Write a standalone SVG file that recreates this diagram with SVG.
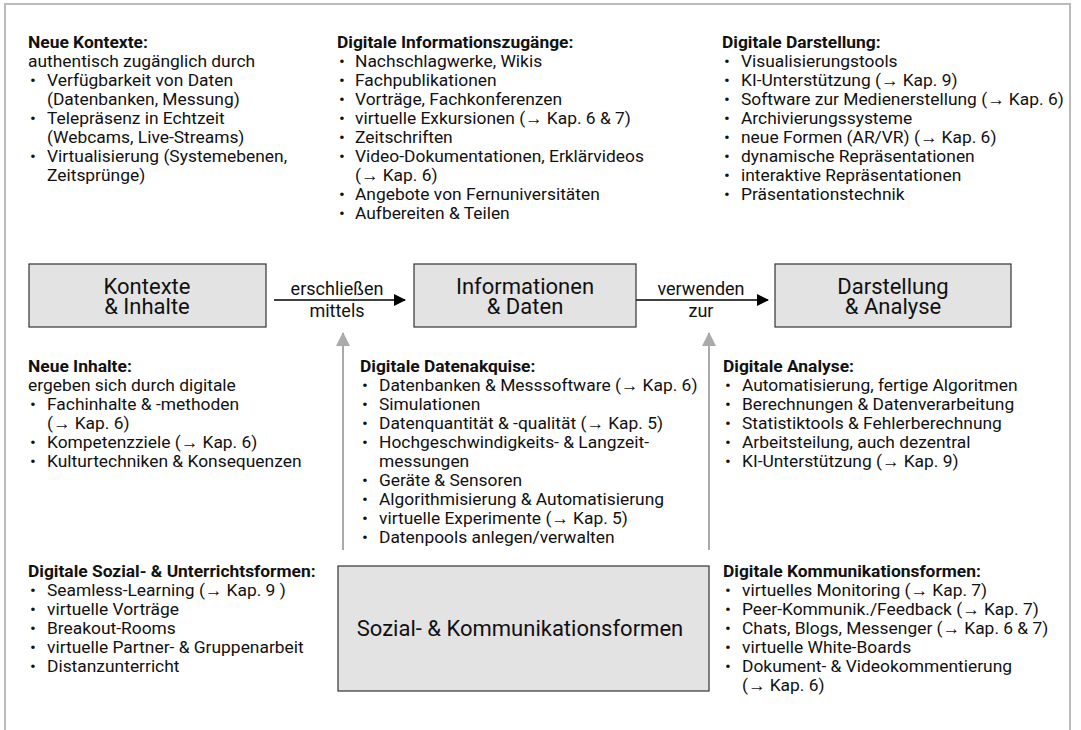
<svg xmlns="http://www.w3.org/2000/svg" width="1081" height="730" viewBox="0 0 1081 730">
<style>
text{font-family:Roboto,"Liberation Sans",sans-serif;fill:#111}
.t{font-size:17.4px}
.h{font-size:17.4px;font-weight:bold}
.box{fill:#e3e3e3;stroke:#333;stroke-width:1.2}
.bl{font-size:22px;text-anchor:middle}
.lbl{font-size:18px;text-anchor:middle}
.ar{stroke:#000;stroke-width:1.5;fill:none}
.gr{stroke:#aaa;stroke-width:2;fill:none}
</style>
<defs>
<marker id="ab" markerWidth="12" markerHeight="12" refX="11" refY="6" orient="auto" markerUnits="userSpaceOnUse"><path d="M0,0 L12,6 L0,12 z" fill="#000"/></marker>
<marker id="ag" markerWidth="14" markerHeight="14" refX="13" refY="7" orient="auto" markerUnits="userSpaceOnUse"><path d="M0,0 L14,7 L0,14 z" fill="#aaa"/></marker>
</defs>
<rect x="5" y="4" width="1065" height="760" fill="#fff" stroke="#bbb" stroke-width="2"/>

<g id="connectors">
<line class="ar" x1="274" y1="300" x2="405" y2="300" marker-end="url(#ab)"/>
<text class="lbl" x="337" y="295">erschließen</text>
<text class="lbl" x="337" y="317">mittels</text>
<line class="ar" x1="636" y1="300" x2="768" y2="300" marker-end="url(#ab)"/>
<text class="lbl" x="701" y="295">verwenden</text>
<text class="lbl" x="701" y="317">zur</text>
<line class="gr" x1="343" y1="550" x2="343" y2="333" marker-end="url(#ag)"/>
<line class="gr" x1="709" y1="550" x2="709" y2="333" marker-end="url(#ag)"/>
</g>

<g id="node-kontexte">
<rect class="box" x="29" y="264" width="237" height="63"/>
<text class="bl" x="147" y="294">Kontexte</text>
<text class="bl" x="147" y="314">&amp; Inhalte</text>
</g>
<g id="node-informationen">
<rect class="box" x="414" y="264" width="222" height="63"/>
<text class="bl" x="525" y="294">Informationen</text>
<text class="bl" x="525" y="314">&amp; Daten</text>
</g>
<g id="node-darstellung">
<rect class="box" x="775" y="264" width="236" height="63"/>
<text class="bl" x="893" y="294">Darstellung</text>
<text class="bl" x="893" y="314">&amp; Analyse</text>
</g>
<g id="node-sozial">
<rect class="box" x="338" y="566" width="371" height="125"/>
<text class="bl" x="520" y="636">Sozial- &amp; Kommunikationsformen</text>
</g>

<g id="neue-kontexte">
<text class="h" x="28" y="48">Neue Kontexte:</text>
<text class="t" x="28" y="67">authentisch zugänglich durch</text>
<text class="t" x="30" y="86">•</text><text class="t" x="47" y="86">Verfügbarkeit von Daten</text>
<text class="t" x="47" y="105">(Datenbanken, Messung)</text>
<text class="t" x="30" y="124">•</text><text class="t" x="47" y="124">Telepräsenz in Echtzeit</text>
<text class="t" x="47" y="143">(Webcams, Live-Streams)</text>
<text class="t" x="30" y="162">•</text><text class="t" x="47" y="162">Virtualisierung (Systemebenen,</text>
<text class="t" x="47" y="181">Zeitsprünge)</text>
</g>

<g id="digitale-informationszugaenge">
<text class="h" x="337" y="48">Digitale Informationszugänge:</text>
<text class="t" x="339" y="67">•</text><text class="t" x="355" y="67">Nachschlagwerke, Wikis</text>
<text class="t" x="339" y="86">•</text><text class="t" x="355" y="86">Fachpublikationen</text>
<text class="t" x="339" y="105">•</text><text class="t" x="355" y="105">Vorträge, Fachkonferenzen</text>
<text class="t" x="339" y="124">•</text><text class="t" x="355" y="124">virtuelle Exkursionen (→ Kap. 6 &amp; 7)</text>
<text class="t" x="339" y="143">•</text><text class="t" x="355" y="143">Zeitschriften</text>
<text class="t" x="339" y="162">•</text><text class="t" x="355" y="162">Video-Dokumentationen, Erklärvideos</text>
<text class="t" x="355" y="181">(→ Kap. 6)</text>
<text class="t" x="339" y="200">•</text><text class="t" x="355" y="200">Angebote von Fernuniversitäten</text>
<text class="t" x="339" y="219">•</text><text class="t" x="355" y="219">Aufbereiten &amp; Teilen</text>
</g>

<g id="digitale-darstellung">
<text class="h" x="722" y="48">Digitale Darstellung:</text>
<text class="t" x="724" y="67">•</text><text class="t" x="741" y="67">Visualisierungstools</text>
<text class="t" x="724" y="86">•</text><text class="t" x="741" y="86">KI-Unterstützung (→ Kap. 9)</text>
<text class="t" x="724" y="105">•</text><text class="t" x="741" y="105">Software zur Medienerstellung (→ Kap. 6)</text>
<text class="t" x="724" y="124">•</text><text class="t" x="741" y="124">Archivierungssysteme</text>
<text class="t" x="724" y="143">•</text><text class="t" x="741" y="143">neue Formen (AR/VR) (→ Kap. 6)</text>
<text class="t" x="724" y="162">•</text><text class="t" x="741" y="162">dynamische Repräsentationen</text>
<text class="t" x="724" y="181">•</text><text class="t" x="741" y="181">interaktive Repräsentationen</text>
<text class="t" x="724" y="200">•</text><text class="t" x="741" y="200">Präsentationstechnik</text>
</g>

<g id="neue-inhalte">
<text class="h" x="28" y="372">Neue Inhalte:</text>
<text class="t" x="28" y="391">ergeben sich durch digitale</text>
<text class="t" x="30" y="410">•</text><text class="t" x="47" y="410">Fachinhalte &amp; -methoden</text>
<text class="t" x="47" y="429">(→ Kap. 6)</text>
<text class="t" x="30" y="448">•</text><text class="t" x="47" y="448">Kompetenzziele (→ Kap. 6)</text>
<text class="t" x="30" y="467">•</text><text class="t" x="47" y="467">Kulturtechniken &amp; Konsequenzen</text>
</g>

<g id="digitale-datenakquise">
<text class="h" x="360" y="372">Digitale Datenakquise:</text>
<text class="t" x="362" y="391">•</text><text class="t" x="379" y="391">Datenbanken &amp; Messsoftware (→ Kap. 6)</text>
<text class="t" x="362" y="410">•</text><text class="t" x="379" y="410">Simulationen</text>
<text class="t" x="362" y="429">•</text><text class="t" x="379" y="429">Datenquantität &amp; -qualität (→ Kap. 5)</text>
<text class="t" x="362" y="448">•</text><text class="t" x="379" y="448">Hochgeschwindigkeits- &amp; Langzeit-</text>
<text class="t" x="379" y="467">messungen</text>
<text class="t" x="362" y="486">•</text><text class="t" x="379" y="486">Geräte &amp; Sensoren</text>
<text class="t" x="362" y="505">•</text><text class="t" x="379" y="505">Algorithmisierung &amp; Automatisierung</text>
<text class="t" x="362" y="524">•</text><text class="t" x="379" y="524">virtuelle Experimente (→ Kap. 5)</text>
<text class="t" x="362" y="543">•</text><text class="t" x="379" y="543">Datenpools anlegen/verwalten</text>
</g>

<g id="digitale-analyse">
<text class="h" x="723" y="372">Digitale Analyse:</text>
<text class="t" x="725" y="391">•</text><text class="t" x="742" y="391">Automatisierung, fertige Algoritmen</text>
<text class="t" x="725" y="410">•</text><text class="t" x="742" y="410">Berechnungen &amp; Datenverarbeitung</text>
<text class="t" x="725" y="429">•</text><text class="t" x="742" y="429">Statistiktools &amp; Fehlerberechnung</text>
<text class="t" x="725" y="448">•</text><text class="t" x="742" y="448">Arbeitsteilung, auch dezentral</text>
<text class="t" x="725" y="467">•</text><text class="t" x="742" y="467">KI-Unterstützung (→ Kap. 9)</text>
</g>

<g id="digitale-sozialformen">
<text class="h" x="28" y="577">Digitale Sozial- &amp; Unterrichtsformen:</text>
<text class="t" x="30" y="596">•</text><text class="t" x="47" y="596">Seamless-Learning (→ Kap. 9 )</text>
<text class="t" x="30" y="615">•</text><text class="t" x="47" y="615">virtuelle Vorträge</text>
<text class="t" x="30" y="634">•</text><text class="t" x="47" y="634">Breakout-Rooms</text>
<text class="t" x="30" y="653">•</text><text class="t" x="47" y="653">virtuelle Partner- &amp; Gruppenarbeit</text>
<text class="t" x="30" y="672">•</text><text class="t" x="47" y="672">Distanzunterricht</text>
</g>

<g id="digitale-kommunikationsformen">
<text class="h" x="723" y="577">Digitale Kommunikationsformen:</text>
<text class="t" x="725" y="596">•</text><text class="t" x="742" y="596">virtuelles Monitoring (→ Kap. 7)</text>
<text class="t" x="725" y="615">•</text><text class="t" x="742" y="615">Peer-Kommunik./Feedback (→ Kap. 7)</text>
<text class="t" x="725" y="634">•</text><text class="t" x="742" y="634">Chats, Blogs, Messenger (→ Kap. 6 &amp; 7)</text>
<text class="t" x="725" y="653">•</text><text class="t" x="742" y="653">virtuelle White-Boards</text>
<text class="t" x="725" y="672">•</text><text class="t" x="742" y="672">Dokument- &amp; Videokommentierung</text>
<text class="t" x="742" y="691">(→ Kap. 6)</text>
</g>
</svg>
